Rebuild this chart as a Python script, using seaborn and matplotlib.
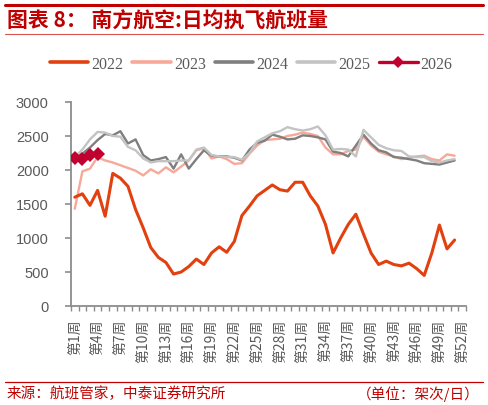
import numpy as np
import pandas as pd
import matplotlib
matplotlib.use("Agg")
import matplotlib.pyplot as plt
from matplotlib.lines import Line2D
from matplotlib.ticker import FixedLocator
import seaborn as sns

# ---------------- data ----------------
weeks = list(range(1, 52))
tick_weeks = list(range(1, 53, 3))
tick_labels = [f"第{w}周" for w in tick_weeks]

v2022 = [1600, 1650, 1480, 1700, 1320, 1950, 1880, 1760, 1420, 1150,
         860, 715, 640, 470, 500, 580, 690, 610, 780, 870,
         790, 950, 1330, 1470, 1620, 1700, 1780, 1710, 1690, 1820,
         1820, 1620, 1470, 1200, 780, 1000, 1200, 1350, 1060, 780,
         610, 660, 610, 590, 630, 550, 450, 780, 1190, 840,
         970]
v2023 = [1430, 1980, 2020, 2190, 2140, 2110, 2070, 2030, 1990, 1920,
         2010, 1950, 2040, 1965, 2050, 2140, 2290, 2320, 2170, 2200,
         2160, 2090, 2100, 2240, 2360, 2440, 2450, 2460, 2500, 2520,
         2550, 2530, 2500, 2330, 2230, 2230, 2280, 2300, 2490, 2360,
         2270, 2230, 2200, 2160, 2180, 2200, 2210, 2160, 2140, 2230,
         2210]
v2024 = [2190, 2240, 2330, 2440, 2530, 2510, 2570, 2390, 2450, 2220,
         2140, 2160, 2190, 2020, 2230, 2020, 2160, 2290, 2210, 2200,
         2200, 2180, 2140, 2300, 2400, 2430, 2520, 2490, 2450, 2460,
         2510, 2500, 2480, 2450, 2270, 2250, 2200, 2360, 2520, 2390,
         2290, 2260, 2190, 2180, 2160, 2140, 2100, 2090, 2080, 2110,
         2140]
v2025 = [2190, 2300, 2450, 2560, 2550, 2500, 2490, 2340, 2290, 2170,
         2110, 2130, 2130, 2130, 2140, 2140, 2300, 2330, 2220, 2200,
         2190, 2190, 2150, 2250, 2420, 2480, 2540, 2570, 2630, 2600,
         2580, 2600, 2640, 2510, 2300, 2310, 2300, 2200, 2590, 2480,
         2370, 2320, 2290, 2280, 2200, 2190, 2190, 2130, 2110, 2140,
         2160]
weeks2026 = [1, 2, 3, 4]
v2026 = [2170, 2160, 2220, 2230]

years = ["2022", "2023", "2024", "2025", "2026"]
colors = {"2022": "#E2400E", "2023": "#F7A899", "2024": "#7F7F7F",
          "2025": "#C3C3C3", "2026": "#C0002E"}

frames = []
for y, vals in zip(years[:4], [v2022, v2023, v2024, v2025]):
    frames.append(pd.DataFrame({"week": weeks, "value": vals, "year": y}))
frames.append(pd.DataFrame({"week": weeks2026, "value": v2026, "year": "2026"}))
df = pd.concat(frames, ignore_index=True)

# ---------------- style ----------------
sns.set_theme(style="white")
plt.rcParams["font.family"] = ["Noto Sans CJK SC", "DejaVu Sans"]
plt.rcParams["axes.unicode_minus"] = False

W, H = 488, 406
fig = plt.figure(figsize=(W / 100, H / 100), dpi=100)
ax = fig.add_axes([71 / W, 1 - 307 / H, (466 - 71) / W, (307 - 103) / H])

widths = {"2022": 2.2, "2023": 1.7, "2024": 1.7, "2025": 1.7, "2026": 1.7}
order = ["2023", "2024", "2025", "2022", "2026"]
for y in order:
    sub = df[df["year"] == y]
    kw = {}
    if y == "2026":
        kw = dict(marker="D", markersize=7, markeredgewidth=0)
    sns.lineplot(data=sub, x="week", y="value", ax=ax, color=colors[y],
                 linewidth=widths[y], sort=False, legend=False,
                 zorder=5 if y == "2026" else (4 if y == "2022" else 3), **kw)

ax.set_xlim(0.5, 52.5)
ax.set_ylim(0, 3000)
ax.set_xlabel("")
ax.set_ylabel("")

axis_col = "#8C8C8C"
text_col = "#595959"
for s in ["top", "right"]:
    ax.spines[s].set_visible(False)
for s in ["left", "bottom"]:
    ax.spines[s].set_color(axis_col)
    ax.spines[s].set_linewidth(1.3)

ax.set_xticks(tick_weeks)
ax.set_xticklabels(tick_labels, rotation=90, va="top", ha="center",
                   fontsize=10, color=text_col,
                   family=["Noto Sans CJK SC", "DejaVu Sans"])
ax.xaxis.set_minor_locator(FixedLocator(np.arange(0.5, 53, 1.0)))
ax.tick_params(axis="x", which="major", length=0, pad=9)
ax.tick_params(axis="x", which="minor", length=3.5, width=1.0,
               color=axis_col, direction="out", bottom=True)

ax.set_yticks([0, 500, 1000, 1500, 2000, 2500, 3000])
ax.set_yticklabels(["0", "500", "1000", "1500", "2000", "2500", "3000"],
                   fontsize=10.5, color=text_col, family="Liberation Sans")
ax.tick_params(axis="y", which="major", length=4, width=1.2,
               color=axis_col, direction="out", left=True, pad=12)
ax.grid(False)

# ---------------- legend ----------------
handles = []
for y in years:
    if y == "2026":
        h = Line2D([], [], color=colors[y], lw=2.4, marker="D",
                   markersize=6, markeredgewidth=0)
    else:
        h = Line2D([], [], color=colors[y], lw=2.6)
    handles.append(h)
fig.legend(handles, years, loc="center", bbox_to_anchor=(0.515, 1 - 65 / H),
           ncol=5, frameon=False, handlelength=2.4, handletextpad=0.2,
           columnspacing=0.55,
           prop={"family": "Liberation Serif", "size": 11.5})
for t in fig.legends[0].get_texts():
    t.set_color(text_col)

# ---------------- title & footer ----------------
red = "#C00000"
fig.add_artist(Line2D([5 / W, 483 / W], [1 - 6 / H, 1 - 6 / H],
                      color=red, lw=2.2, transform=fig.transFigure))
fig.add_artist(Line2D([5 / W, 483 / W], [1 - 35 / H, 1 - 35 / H],
                      color="#D9534F", lw=0.8, transform=fig.transFigure))
fig.text(7 / W, 1 - 21 / H, "图表 8： 南方航空:日均执飞航班量",
         color=red, fontsize=15, fontweight="bold", style="italic",
         va="center", ha="left", family=["Noto Sans CJK SC", "DejaVu Sans"])

fig.add_artist(Line2D([5 / W, 483 / W], [1 - 383 / H, 1 - 383 / H],
                      color=red, lw=0.9, transform=fig.transFigure))
fig.text(7 / W, 1 - 394 / H, "来源：航班管家，中泰证券研究所",
         color=red, fontsize=10.5, va="center", ha="left",
         family=["Noto Sans CJK SC", "DejaVu Sans"])
fig.text(480 / W, 1 - 394 / H, "（单位：架次/日）",
         color=red, fontsize=10.5, va="center", ha="right",
         family=["Noto Sans CJK SC", "DejaVu Sans"])

fig.savefig("out.png", dpi=100)
